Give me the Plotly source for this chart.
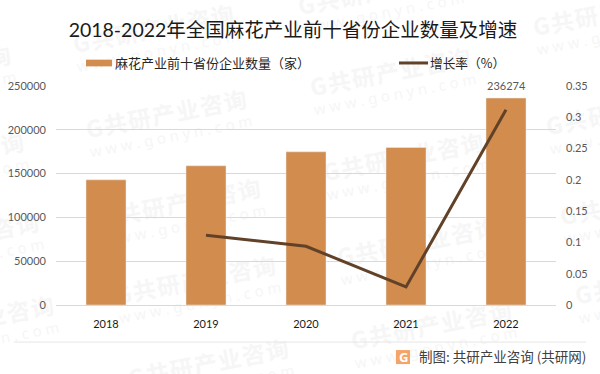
import plotly.graph_objects as go

years = ["2018", "2019", "2020", "2021", "2022"]
companies = [142900, 158900, 174900, 179800, 236274]
growth = [None, 0.1115, 0.0939, 0.0288, 0.312]

title_text = "2018-2022年全国麻花产业前十省份企业数量及增速"
bar_name = "麻花产业前十省份企业数量（家）"
line_name = "增长率（%）"
footer_text = "制图: 共研产业咨询 (共研网)"
watermark_main = "G\u200a共\u200a研\u200a产\u200a业\u200a咨\u200a询"
watermark_url = "w w w . g o n y n . c o m"
watermark_centers = [(154, 32), (167, 117), (391, 75), (614, 15), (627, 114), (-69, 73), (-56, 160),
                     (-41, 240), (-26, 323), (181, 206), (196, 283), (209, 366), (404, 160), (418, 245),
                     (432, 328), (641, 204), (656, 283), (379, -6)]

W, H = 600, 374
L, R, T, B = 56, 556, 86.3, 305
FONT = "Lato, 'Noto Sans CJK SC', sans-serif"
CJK = "'Noto Sans CJK SC', sans-serif"
ORANGE = "#D18C4E"
BROWN = "#614228"
GREY = "#595959"
MARK = "#F6F6F6"


def px(x):
    return (x - L) / (R - L)


def py(y):
    return (B - y) / (B - T)


fig = go.Figure()
fig.add_trace(go.Bar(x=years, y=companies, name=bar_name, width=0.4, marker_color=ORANGE, yaxis="y"))
fig.add_trace(go.Scatter(x=years, y=growth, name=line_name, mode="lines",
                         line=dict(color=BROWN, width=3), yaxis="y2", cliponaxis=False))

shapes = []
for cx, cy in watermark_centers:
    shapes.append(dict(type="rect", xref="paper", yref="paper", layer="below",
                       x0=px(cx - 100), x1=px(cx + 100), y0=py(cy + 20), y1=py(cy - 20),
                       line_width=0, fillcolor="rgba(0,0,0,0)",
                       label=dict(text=watermark_main, textangle=-11, textposition="middle center",
                                  font=dict(size=23, color=MARK, family=CJK, weight=700))))
    shapes.append(dict(type="rect", xref="paper", yref="paper", layer="below",
                       x0=px(cx - 96), x1=px(cx + 104), y0=py(cy + 40), y1=py(cy),
                       line_width=0, fillcolor="rgba(0,0,0,0)",
                       label=dict(text=watermark_url, textangle=-11, textposition="middle center",
                                  font=dict(size=15, color=MARK, family="'Noto Sans', sans-serif"))))
shapes.append(dict(type="line", xref="paper", yref="paper", x0=px(14), x1=px(586), y0=py(342), y1=py(342),
                   line=dict(color="#E6E6E6", width=1)))
shapes.append(dict(type="rect", xref="paper", yref="paper", x0=px(396), x1=px(410), y0=py(364), y1=py(350),
                   line_width=0, fillcolor="#F5A468"))
shapes.append(dict(type="rect", xref="paper", yref="paper", x0=px(86), x1=px(112), y0=py(66.7), y1=py(60),
                   line_width=0, fillcolor=ORANGE))
shapes.append(dict(type="line", xref="paper", yref="paper", x0=px(399), x1=px(428), y0=py(63.3), y1=py(63.3),
                   line=dict(color=BROWN, width=3)))

annotations = [
    dict(text=str(companies[-1]), xref="x", yref="y", x=len(years) - 1, y=companies[-1], yshift=13, showarrow=False,
         xanchor="center", yanchor="middle", font=dict(size=11, color=GREY, family=FONT)),
    dict(text="G", xref="paper", yref="paper", x=px(403), y=py(357), xanchor="center", yanchor="middle",
         showarrow=False, font=dict(size=13, color="white", family="'Noto Sans', sans-serif", weight=700)),
    dict(text=footer_text, xref="paper", yref="paper", x=px(417), y=py(356), xanchor="left", yanchor="middle",
         showarrow=False, font=dict(size=13.5, color="#404040", family=CJK)),
    dict(text=bar_name, xref="paper", yref="paper", x=px(113), y=py(63), xanchor="left", yanchor="middle",
         showarrow=False, font=dict(size=13, color="#262626", family=CJK)),
    dict(text=line_name, xref="paper", yref="paper", x=px(428), y=py(63), xanchor="left", yanchor="middle",
         showarrow=False, font=dict(size=12.7, color="#262626", family=CJK)),
]

fig.update_layout(
    width=W, height=H, autosize=False,
    margin=dict(l=L, r=W - R, t=T, b=H - B, pad=0, autoexpand=False),
    paper_bgcolor="white", plot_bgcolor="rgba(0,0,0,0)",
    font=dict(family=FONT, size=11, color=GREY),
    title=dict(text=title_text, x=293 / W, xanchor="center", y=1 - 30 / H, yanchor="middle",
               font=dict(size=19.5, color="#1A1A1A", family=FONT)),
    showlegend=False,
    bargap=0.6,
    xaxis=dict(type="category", range=[-0.5, len(years) - 0.5], showgrid=False, showline=True, linecolor="#D9D9D9",
               linewidth=1.2, ticks="", automargin=False,
               tickfont=dict(size=11, color="#1A1A1A", family=FONT), ticklabelstandoff=9),
    yaxis=dict(range=[0, 250000], dtick=50000, showgrid=True, gridcolor="#D9D9D9", gridwidth=1, zeroline=False,
               showline=False, ticks="", tickformat="d", ticklabelstandoff=9, automargin=False,
               tickfont=dict(size=11, color=GREY, family=FONT)),
    yaxis2=dict(range=[0, 0.35], dtick=0.05, overlaying="y", side="right", showgrid=False, zeroline=False,
                showline=False, ticks="", ticklabelstandoff=9, automargin=False,
                tickfont=dict(size=11, color=GREY, family=FONT)),
    shapes=shapes, annotations=annotations,
)

fig.write_html("out.html", config=dict(displayModeBar=False),
               post_script="document.body.style.margin='0';document.documentElement.style.overflow='hidden';")
